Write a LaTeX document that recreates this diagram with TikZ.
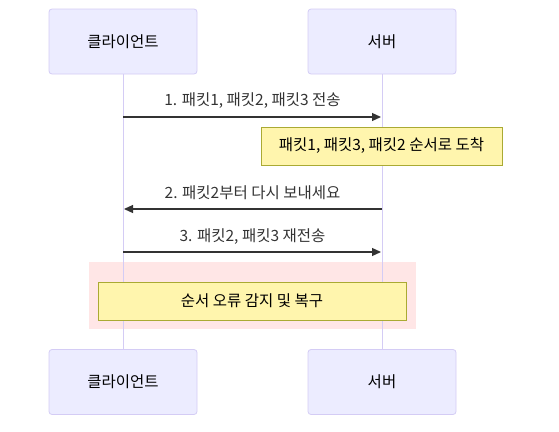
\documentclass[tikz,border=0pt]{standalone}
\usepackage{fontspec}
\setmainfont{Noto Sans CJK KR}
\usetikzlibrary{arrows.meta}

\definecolor{actorfill}{HTML}{ECECFF}
\definecolor{actorline}{HTML}{D4CCF5}
\definecolor{notefill}{HTML}{FFF5AD}
\definecolor{noteline}{HTML}{AAAA33}
\definecolor{loopfill}{HTML}{FFE6E6}
\definecolor{msgline}{HTML}{333333}

\tikzset{
    actor/.style={draw=actorline, fill=actorfill, rounded corners=3pt, line width=0.8pt,
        minimum width=148pt, minimum height=65pt, font=\fontsize{15.5}{18}\selectfont},
    note/.style={draw=noteline, fill=notefill, line width=0.6pt,
        minimum height=38pt, font=\fontsize{15.5}{18}\selectfont},
    msg/.style={draw=msgline, line width=1.2pt, -{Triangle[length=9pt,width=8pt]}},
    msglabel/.style={font=\fontsize{15.5}{18}\selectfont, text=msgline}
}

\begin{document}
\begin{tikzpicture}[x=1pt, y=-1pt]
    \useasboundingbox (0,0) rectangle (559,431);

    % 배경 영역
    \fill[loopfill] (89,262) rectangle (416,329);

    % 생명선
    \draw[actorline, line width=1pt] (123,74) -- (123,350);
    \draw[actorline, line width=1pt] (382,74) -- (382,350);

    % 참여자
    \node[actor] (ctop) at (123,41.5) {클라이언트};
    \node[actor] (stop) at (382,41.5) {서버};
    \node[actor] (cbot) at (123,382) {클라이언트};
    \node[actor] (sbot) at (382,382) {서버};

    % 메시지 끝점
    \coordinate (c1) at (123,117);
    \coordinate (s1) at (381,117);
    \coordinate (s2) at (382,209);
    \coordinate (c2) at (124,209);
    \coordinate (c3) at (123,252);
    \coordinate (s3) at (381,252);

    % 1. 전송
    \draw[msg] (c1) -- (s1);
    \node[msglabel] (m1) at (252.5,101) {1. 패킷1, 패킷2, 패킷3 전송};

    % 도착 메모
    \node[note, minimum width=241pt] (n1) at (381.5,146) {패킷1, 패킷3, 패킷2 순서로 도착};

    % 2. 재요청
    \draw[msg] (s2) -- (c2);
    \node[msglabel] (m2) at (252.5,193) {2. 패킷2부터 다시 보내세요};

    % 3. 재전송
    \draw[msg] (c3) -- (s3);
    \node[msglabel] (m3) at (252.5,237) {3. 패킷2, 패킷3 재전송};

    % 복구 메모
    \node[note, minimum width=308pt] (n2) at (252,301) {순서 오류 감지 및 복구};
\end{tikzpicture}
\end{document}
